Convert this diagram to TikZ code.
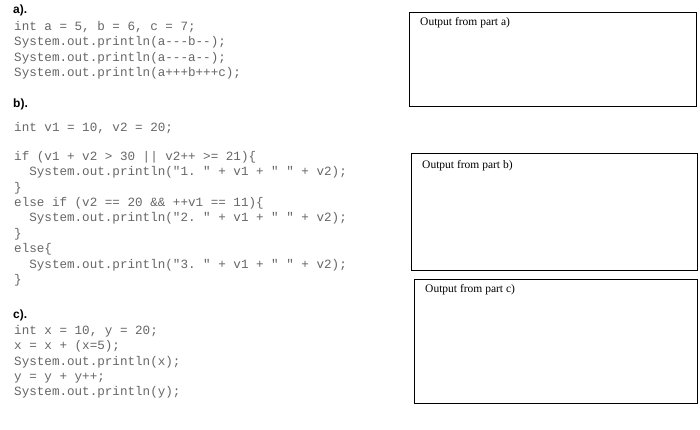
\documentclass[tikz,border=0pt]{standalone}
\usepackage{fontspec}
\setmainfont{Liberation Serif}
\setsansfont{Liberation Sans}
\setmonofont{Liberation Mono}
\begin{document}
\begin{tikzpicture}[x=1pt,y=-1pt,
  code/.style={anchor=north west,inner sep=0pt,font=\fontsize{12.6}{15.4}\selectfont\ttfamily,text=black!60,align=left},
  head/.style={anchor=west,inner sep=0pt,font=\fontsize{12}{12}\selectfont\sffamily\bfseries},
  outbox/.style={draw,line width=0.8pt},
  outlbl/.style={anchor=north west,inner sep=0pt,font=\fontsize{11.5}{12}\selectfont}]
\useasboundingbox (0,0) rectangle (700,430);
\node[head] (ha) at (13,10) {a).};
\node[code] (ca) at (14,21) {int a = 5, b = 6, c = 7;\\System.out.println(a---b--);\\System.out.println(a---a--);\\System.out.println(a+++b+++c);};
\node[head] (hb) at (13,104) {b).};
\node[code] (cb0) at (14,122) {int v1 = 10, v2 = 20;};
\node[code] (cb) at (14,151) {if (v1 + v2 > 30 || v2++ >= 21)\{\\\ \ System.out.println("1. " + v1 + " " + v2);\\\}\\else if (v2 == 20 \&\& ++v1 == 11)\{\\\ \ System.out.println("2. " + v1 + " " + v2);\\\}\\else\{\\\ \ System.out.println("3. " + v1 + " " + v2);\\\}};
\node[head] (hc) at (13,315) {c).};
\node[code] (cc) at (14,325) {int x = 10, y = 20;\\x = x + (x=5);\\System.out.println(x);\\y = y + y++;\\System.out.println(y);};
\draw[outbox] (409,12) rectangle (696,106);
\node[outlbl] (la) at (420,17) {Output from part a)};
\draw[outbox] (411,153) rectangle (697,270);
\node[outlbl] (lb) at (422,160) {Output from part b)};
\draw[outbox] (414,279) rectangle (697,403);
\node[outlbl] (lc) at (425,284) {Output from part c)};
\end{tikzpicture}
\end{document}
